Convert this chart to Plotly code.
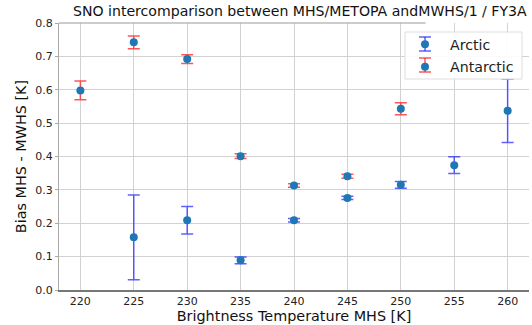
import plotly.graph_objects as go

# Data
arctic_x = [225, 230, 235, 240, 245, 250, 255, 260]
arctic_y = [0.158, 0.209, 0.089, 0.209, 0.276, 0.315, 0.374, 0.537]
arctic_err = [0.127, 0.041, 0.010, 0.005, 0.005, 0.010, 0.025, 0.095]

antarctic_x = [220, 225, 230, 235, 240, 245, 250]
antarctic_y = [0.598, 0.742, 0.692, 0.401, 0.313, 0.341, 0.543]
antarctic_err = [0.028, 0.019, 0.013, 0.007, 0.005, 0.006, 0.018]

x_ticks = [220, 225, 230, 235, 240, 245, 250, 255, 260]
y_ticks = [0.0, 0.1, 0.2, 0.3, 0.4, 0.5, 0.6, 0.7, 0.8]

FONT = "DejaVu Sans"
MARKER = "#1f77b4"
BLUE_ERR = "rgba(30,30,255,0.7)"
RED_ERR = "rgba(255,30,30,0.75)"

# plot-area geometry in pixels (for legend decoration)
L, R, T, B = 59, 529, 23, 290
W, H = 532, 325


def px(x):
    return (x - L) / (R - L)


def py(y):
    return (B - y) / (B - T)


fig = go.Figure()
fig.add_trace(go.Scatter(
    x=arctic_x, y=arctic_y, mode="markers", name="Arctic", legendgroup="a",
    marker=dict(color=MARKER, size=8),
    error_y=dict(type="data", array=arctic_err, visible=True,
                 color=BLUE_ERR, thickness=1.5, width=6),
))
fig.add_trace(go.Scatter(
    x=antarctic_x, y=antarctic_y, mode="markers", name="Antarctic", legendgroup="b",
    marker=dict(color=MARKER, size=8),
    error_y=dict(type="data", array=antarctic_err, visible=True,
                 color=RED_ERR, thickness=1.5, width=6),
))

fig.update_layout(
    width=W, height=H,
    margin=dict(l=L, r=W - R, t=T, b=H - B),
    paper_bgcolor="white", plot_bgcolor="white",
    font=dict(family=FONT, color="#222222", size=11),
    showlegend=True,
    legend=dict(x=px(400), y=py(28.5), xanchor="left", yanchor="top",
                bgcolor="rgba(0,0,0,0)", borderwidth=0, itemwidth=40,
                font=dict(family=FONT, size=14.2, color="#222222"),
                tracegroupgap=1),
    xaxis=dict(range=[218, 262], tickvals=x_ticks, ticktext=[str(v) for v in x_ticks],
               showgrid=True, gridcolor="#d2d2d2", gridwidth=1,
               showline=True, linecolor="#777777", linewidth=2,
               zeroline=False, ticks="", tickfont=dict(size=11, color="#222222"),
               title=dict(text="Brightness Temperature MHS [K]", font=dict(size=14.4, color="#111111"),
                          standoff=3)),
    yaxis=dict(range=[0, 0.8], tickvals=y_ticks, ticktext=[f"{v:.1f}" for v in y_ticks],
               showgrid=True, gridcolor="#d2d2d2", gridwidth=1,
               showline=True, linecolor="#aaaaaa", linewidth=1,
               zeroline=False, ticks="outside", ticklen=3, tickcolor="#aaaaaa",
               tickfont=dict(size=11, color="#222222"),
               title=dict(text="Bias MHS - MWHS [K]", font=dict(size=14.4, color="#111111"),
                          standoff=5)),
)

# top spine (partially visible)
fig.add_shape(type="line", xref="paper", yref="paper", x0=0, x1=0.78, y0=1, y1=1,
              line=dict(color="#999999", width=1))

# legend frame
fig.add_shape(type="rect", xref="paper", yref="paper",
              x0=px(405), x1=px(522), y0=py(79), y1=py(32),
              fillcolor="rgba(255,255,255,0.9)", line=dict(color="#dddddd", width=1),
              layer="above")
# legend error-bar glyphs
for cy, col in [(44, BLUE_ERR), (65, RED_ERR)]:
    gx = 425
    fig.add_shape(type="line", xref="paper", yref="paper", x0=px(gx), x1=px(gx),
                  y0=py(cy + 7), y1=py(cy - 7), line=dict(color=col, width=1.5), layer="above")
    for dy in (-7, 7):
        fig.add_shape(type="line", xref="paper", yref="paper", x0=px(gx - 6), x1=px(gx + 6),
                      y0=py(cy + dy), y1=py(cy + dy), line=dict(color=col, width=1.5), layer="above")

fig.add_annotation(text="SNO intercomparison between MHS/METOPA andMWHS/1 / FY3A",
                   xref="paper", yref="paper", x=(71 - L) / (R - L), y=1, yshift=2,
                   xanchor="left", yanchor="bottom", showarrow=False,
                   font=dict(family=FONT, size=14.1, color="#111111"))

fig.write_html("out.html")
